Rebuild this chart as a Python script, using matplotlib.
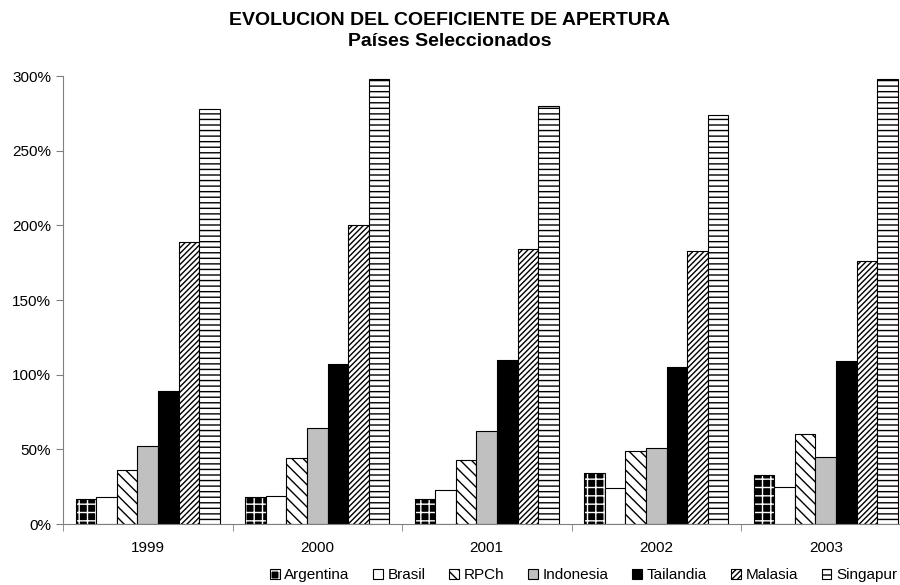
import numpy as np
import matplotlib.pyplot as plt
import matplotlib as mpl
from matplotlib.patches import Patch

plt.rcParams['font.family'] = ['Liberation Sans', 'DejaVu Sans']
mpl.rcParams['hatch.linewidth'] = 1.0

years = ["1999", "2000", "2001", "2002", "2003"]
countries = ["Argentina", "Brasil", "RPCh", "Indonesia", "Tailandia", "Malasia", "Singapur"]

argentina = [17, 18, 17, 34, 33]
brasil = [18, 19, 23, 24, 25]
rpch = [36, 44, 43, 49, 60]
indonesia = [52, 64, 62, 51, 45]
tailandia = [89, 107, 110, 105, 109]
malasia = [189, 200, 184, 183, 176]
singapur = [278, 298, 280, 274, 298]

series = [argentina, brasil, rpch, indonesia, tailandia, malasia, singapur]

# facecolor, hatch colour, hatch
styles = [
    ("black", "white", "++"),
    ("white", "black", ""),
    ("white", "black", "\\\\\\"),
    ("#c0c0c0", "black", ""),
    ("black", "black", ""),
    ("white", "black", "//////"),
    ("white", "black", "---"),
]

fig = plt.figure(figsize=(9, 5.85), dpi=100)
# plot area runs past the right edge, as in the original export
ax = fig.add_axes([63 / 900, 61 / 585, 847.5 / 900, 448 / 585])

x = np.arange(len(years))
w = 0.121
for i, (vals, (fc, hc, h)) in enumerate(zip(series, styles)):
    pos = x + (i - 3) * w
    ax.bar(pos, vals, w, color=fc, edgecolor=hc, hatch=h, linewidth=0)
    ax.bar(pos, vals, w, fill=False, edgecolor="black", linewidth=0.8)

ax.set_xlim(-0.5, 4.5)
ax.set_ylim(0, 300)
ax.set_yticks(range(0, 301, 50))
ax.set_yticklabels([f"{v}%" for v in range(0, 301, 50)], fontsize=11)
ax.set_xticks(x)
ax.set_xticklabels(years, fontsize=11)
ax.set_xticks(np.arange(-0.5, 5.0, 1.0), minor=True)
ax.tick_params(axis="x", which="major", length=0, pad=12)
ax.tick_params(axis="x", which="minor", length=5, direction="out", color="#808080")
ax.tick_params(axis="y", length=5, direction="out", color="#808080")
for s in ["top", "right"]:
    ax.spines[s].set_visible(False)
ax.spines["left"].set_color("#808080")
ax.spines["bottom"].set_color("#808080")

fig.text(0.5, 1 - 31 / 585, "EVOLUCION DEL COEFICIENTE DE APERTURA\nPaíses Seleccionados",
         ha="center", va="center", fontsize=14, fontweight="bold", linespacing=1.25)

# two stacked patches per key: hatched fill + black outline
handles = [(Patch(facecolor=fc, edgecolor=hc, hatch=h, linewidth=0),
            Patch(fill=False, edgecolor="black", linewidth=0.8)) for fc, hc, h in styles]
fig.legend(handles, countries, loc="center left", bbox_to_anchor=(262 / 900, 1 - 575 / 585),
           ncol=7, frameon=False, fontsize=11, handlelength=0.65, handleheight=0.65,
           handletextpad=0.3, columnspacing=1.55, borderpad=0)

fig.savefig("out.png", dpi=100)
